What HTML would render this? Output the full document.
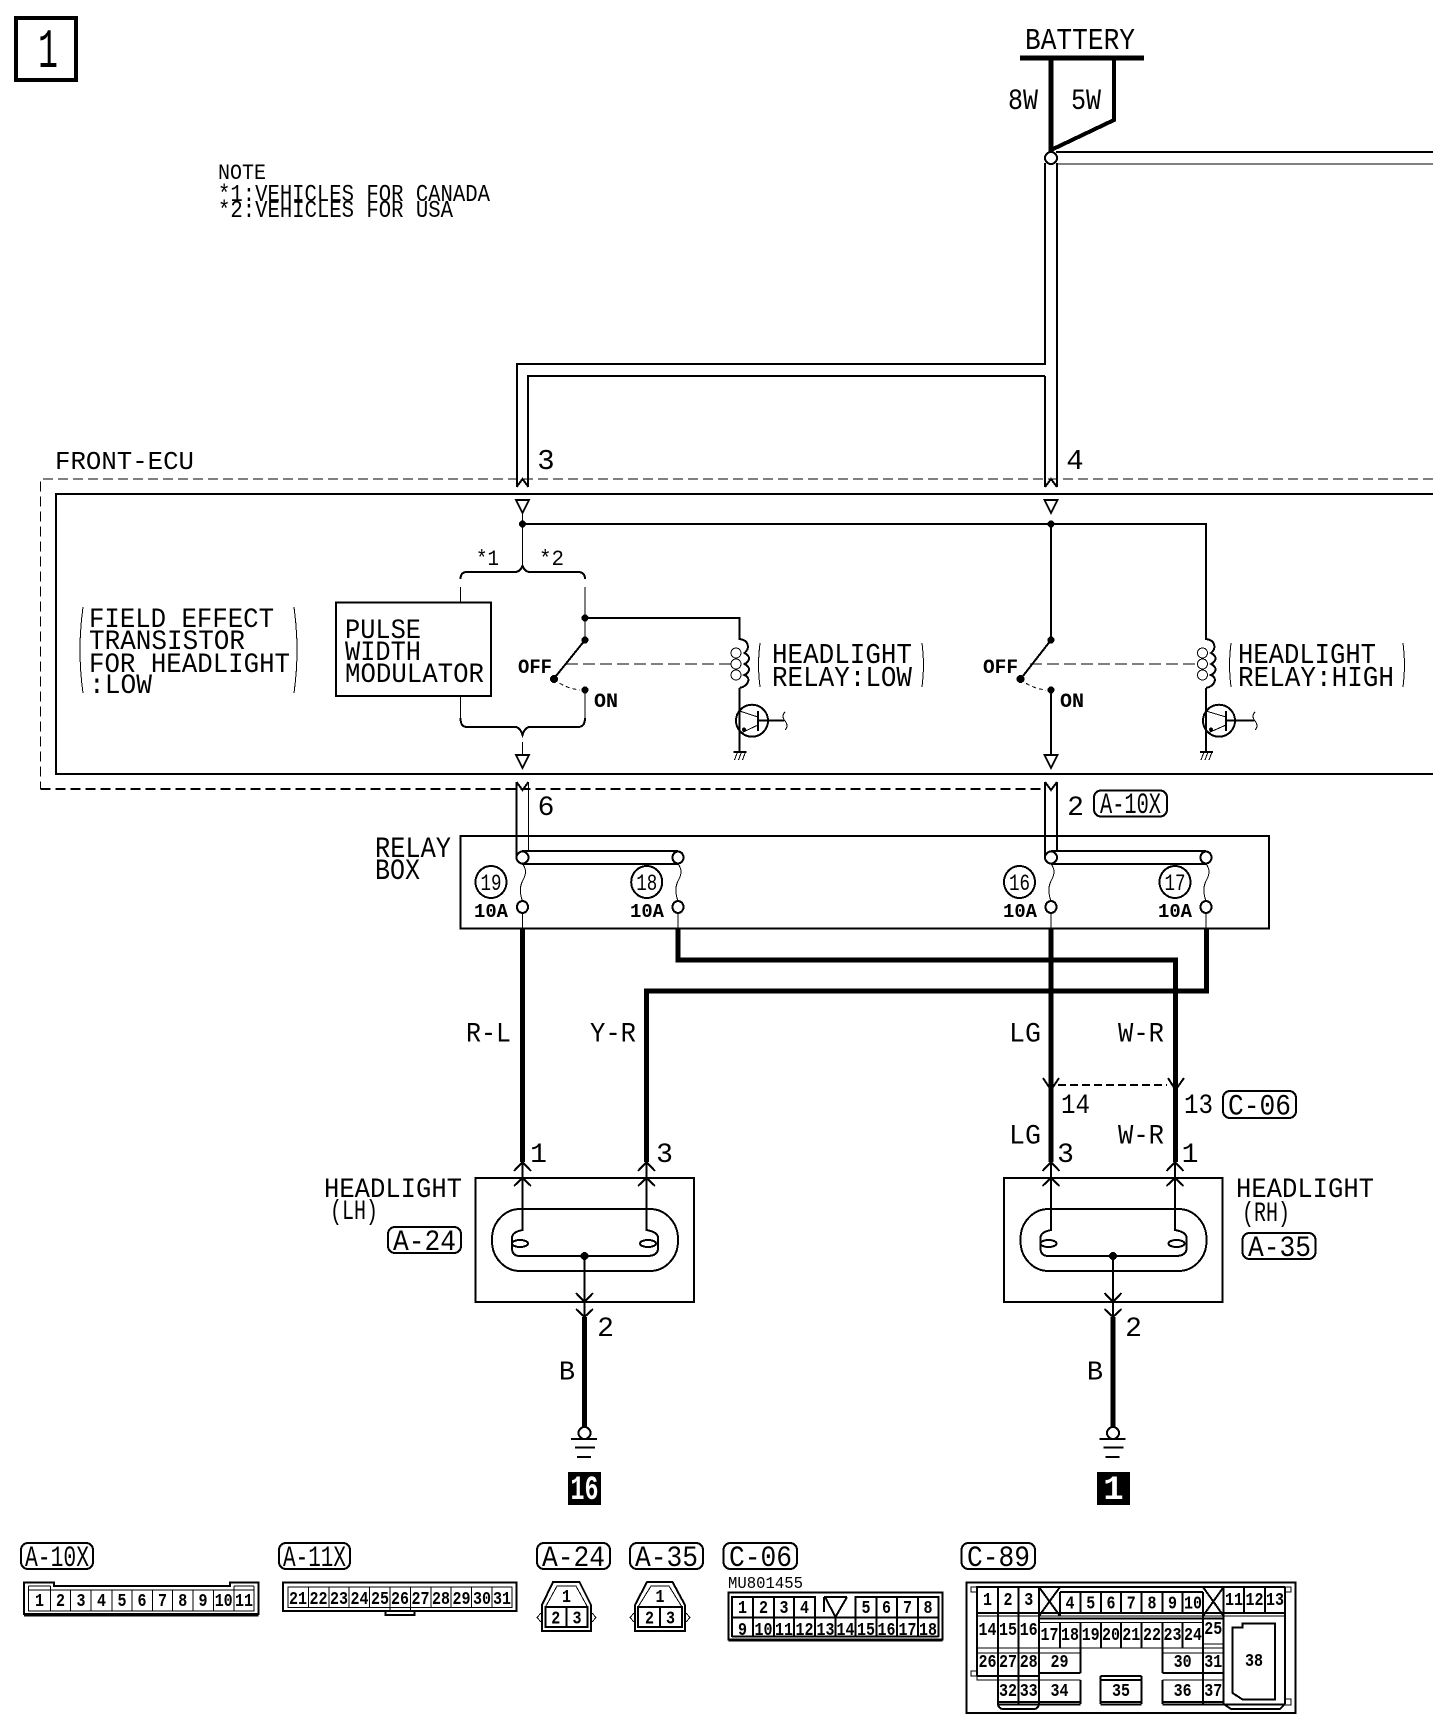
<!DOCTYPE html>
<html><head><meta charset="utf-8"><title>Headlight circuit</title>
<style>
html,body{margin:0;padding:0;background:#fff}
svg{display:block;width:1456px;height:1734px}
.l{fill:none;stroke:#000;stroke-width:1}
.m{fill:none;stroke:#000;stroke-width:2}
.t{fill:none;stroke:#000;stroke-width:4}
.k{fill:none;stroke:#000;stroke-width:5}
text{font-family:"Liberation Mono",monospace;fill:#000;stroke:none}
.c{font-size:18px;font-weight:bold;text-anchor:middle}
</style></head><body>
<svg xmlns="http://www.w3.org/2000/svg" width="1456" height="1734" viewBox="0 0 1456 1734" shape-rendering="crispEdges">
<defs>
<g id="tri"><path class="m" d="M-6.5 0H6.5L0 13Z"/></g>
<g id="fuse"><path class="l" d="M0 864C5 870 3 876 0 881C-3 887 -3 893 0 901"/><ellipse class="m" cx="0" cy="907" rx="5.5" ry="6" fill="#fff"/><path class="l" d="M0 913V929"/></g>
<g id="coil">
<path class="m" d="M0 639C9 640 11 648 5 653C11 656 11 661 5 664C11 667 11 672 5 675C12 678 9 686 0 688"/>
<ellipse class="l" cx="-3.5" cy="653" rx="5" ry="5"/><ellipse class="l" cx="-3.5" cy="664" rx="5" ry="5"/><ellipse class="l" cx="-3.5" cy="675" rx="5" ry="5"/>
<path class="m" d="M0 688V752"/>
<path class="m" d="M-6 752H7"/><path class="l" d="M-5 760L-2 752M-1 760L2 752M3 760L6 752"/>
</g>
<g id="lamp">
<rect class="m" x="475.7" y="1178" width="218.3" height="124"/>
<rect class="m" x="492" y="1209" width="186" height="62" rx="28" ry="30"/>
<path class="m" d="M522.5 1162V1230Q512 1232 512 1238V1248Q512 1256 520 1256H647Q658 1256 658 1248V1238Q658 1232 646.5 1230V1162"/>
<ellipse class="m" cx="520" cy="1243.5" rx="8" ry="3.5"/><ellipse class="m" cx="648" cy="1243.5" rx="8" ry="3.5"/>
<path class="m" d="M514 1171L522.5 1162L531 1171M514 1186L522.5 1178L531 1186M638 1171L646.5 1162L655 1171M638 1186L646.5 1178L655 1186"/>
<circle cx="584.5" cy="1256" r="4" fill="#000"/>
<path class="m" d="M584.5 1256V1317"/>
<path class="m" d="M576 1293L584.5 1302L593 1293M576 1309L584.5 1317L593 1309"/>
<path class="k" d="M584.5 1317V1428"/>
<circle class="m" cx="584.5" cy="1433" r="6"/>
<path class="m" d="M571 1439H597"/><path class="m" d="M575 1447.5H595M577 1457H591"/>
</g>
</defs>

<!-- sheet number -->
<rect x="16" y="18" width="60" height="62" fill="none" stroke="#000" stroke-width="4"/>
<text x="48" y="67" font-size="56" text-anchor="middle" textLength="20" lengthAdjust="spacingAndGlyphs">1</text>

<text x="218" y="179" font-size="22" textLength="48" lengthAdjust="spacingAndGlyphs">NOTE</text>
<text x="218" y="201" font-size="24" textLength="272" lengthAdjust="spacingAndGlyphs">*1:VEHICLES FOR CANADA</text>
<text x="218" y="217" font-size="24" textLength="235" lengthAdjust="spacingAndGlyphs">*2:VEHICLES FOR USA</text>

<!-- battery -->
<text x="1025" y="49" font-size="31" textLength="110" lengthAdjust="spacingAndGlyphs">BATTERY</text>
<path class="k" d="M1020 58H1144"/>
<path class="k" d="M1051 58V152"/>
<path class="t" d="M1114 58V120L1051 150"/>
<text x="1008" y="109" font-size="30" textLength="30" lengthAdjust="spacingAndGlyphs">8W</text>
<text x="1071" y="109" font-size="30" textLength="30" lengthAdjust="spacingAndGlyphs">5W</text>
<path class="m" d="M1056 152H1433"/><path class="l" d="M1057 164H1433"/>
<path class="m" d="M1045 163V364H517V487M1045 376H528V487M1045 376V487M1057 163V487"/>
<ellipse class="m" cx="1051" cy="158" rx="6" ry="6" fill="#fff"/>
<path class="m" d="M516.5 487L522.5 479L528.5 487M1045 487L1051 479L1057 487"/>
<text x="546" y="469" font-size="29" text-anchor="middle">3</text>
<text x="1075" y="469" font-size="29" text-anchor="middle">4</text>

<!-- ECU -->
<text x="55" y="469" font-size="26" textLength="139" lengthAdjust="spacingAndGlyphs">FRONT-ECU</text>
<path class="l" stroke-dasharray="10 5" d="M1433 479H40.5V789"/>
<path class="m" stroke-dasharray="10 5" d="M40.5 789H1044"/>
<path class="m" d="M1433 494H56V774H1433"/>

<text x="89" y="627" font-size="28" textLength="185" lengthAdjust="spacingAndGlyphs">FIELD EFFECT</text>
<text x="89" y="649" font-size="28" textLength="156" lengthAdjust="spacingAndGlyphs">TRANSISTOR</text>
<text x="89" y="672" font-size="28" textLength="201" lengthAdjust="spacingAndGlyphs">FOR HEADLIGHT</text>
<text x="89" y="693" font-size="28" textLength="63" lengthAdjust="spacingAndGlyphs">:LOW</text>
<path class="l" d="M83 607Q77 650 83 693M294 607Q300 650 294 693"/>

<rect class="m" x="336" y="602.5" width="155" height="93.5" fill="none"/>
<text x="345" y="638" font-size="28" textLength="76" lengthAdjust="spacingAndGlyphs">PULSE</text>
<text x="345" y="660" font-size="28" textLength="76" lengthAdjust="spacingAndGlyphs">WIDTH</text>
<text x="345" y="682" font-size="28" textLength="139" lengthAdjust="spacingAndGlyphs">MODULATOR</text>

<use href="#tri" x="522.5" y="500"/><use href="#tri" x="1051" y="500"/>
<use href="#tri" x="522.5" y="755"/><use href="#tri" x="1051" y="755"/>
<path class="l" d="M522.5 513V565"/>
<path class="m" d="M522.5 524H1206V640"/>
<circle cx="522.5" cy="524" r="3.5" fill="#000"/><circle cx="1051" cy="524" r="3.5" fill="#000"/>
<text x="476" y="565" font-size="22" textLength="23" lengthAdjust="spacingAndGlyphs">*1</text>
<text x="539" y="565" font-size="22" textLength="25" lengthAdjust="spacingAndGlyphs">*2</text>
<path class="m" d="M460.5 579Q460.5 572 467 572H515Q520 572 522.5 566Q525 572 530 572H578Q585 572 585 579"/>
<path class="l" d="M460.5 587V602M585 587V640M460.5 696V718M585 690V718"/>
<path class="m" d="M460.5 718Q460.5 727 467 727H515Q520 727 522.5 735Q525 727 530 727H578Q585 727 585 718"/>
<path class="l" d="M522.5 742V755"/>

<!-- low switch -->
<circle cx="585" cy="618" r="3.5" fill="#000"/><circle cx="585" cy="640" r="3.5" fill="#000"/><circle cx="585" cy="690" r="3.5" fill="#000"/>
<path class="m" d="M585 618H739.5V640"/>
<path class="m" d="M585 640L556 676"/>
<circle cx="554" cy="679" r="4" fill="#000"/>
<path class="l" stroke-dasharray="4 3" d="M554 679Q564 688 580 690"/>
<path class="l" stroke-dasharray="12 5" d="M566 664H732"/>
<text x="518" y="673" font-size="20" font-weight="bold" textLength="34" lengthAdjust="spacingAndGlyphs">OFF</text>
<text x="594" y="707" font-size="20" font-weight="bold" textLength="24" lengthAdjust="spacingAndGlyphs">ON</text>
<use href="#coil" x="739.5"/>
<circle class="m" cx="752" cy="720.7" r="16"/>
<path class="m" d="M758 711V731M758 720.5H784"/>
<path class="l" d="M739.5 711L758 717M758 725L741 733"/>
<circle cx="744" cy="729.5" r="2" fill="#000"/>
<path class="l" d="M785 712Q781 716 785 721Q789 726 785 730"/>
<path class="l" d="M760 643Q757 665 760 687M922 643Q925 665 922 687"/>
<text x="772" y="663" font-size="29" textLength="140" lengthAdjust="spacingAndGlyphs">HEADLIGHT</text>
<text x="772" y="686" font-size="29" textLength="140" lengthAdjust="spacingAndGlyphs">RELAY:LOW</text>

<!-- high switch -->
<path class="m" d="M1051 524V640M1051 690V755"/>
<circle cx="1051" cy="640" r="3.5" fill="#000"/><circle cx="1051" cy="690" r="3.5" fill="#000"/>
<path class="m" d="M1051 640L1023 676"/>
<circle cx="1020.5" cy="679" r="4" fill="#000"/>
<path class="l" stroke-dasharray="4 3" d="M1020.5 679Q1030 688 1046 690"/>
<path class="l" stroke-dasharray="12 5" d="M1030 664H1198"/>
<text x="983" y="673" font-size="20" font-weight="bold" textLength="35" lengthAdjust="spacingAndGlyphs">OFF</text>
<text x="1060" y="707" font-size="20" font-weight="bold" textLength="24" lengthAdjust="spacingAndGlyphs">ON</text>
<use href="#coil" x="1206"/>
<circle class="m" cx="1219" cy="720.7" r="16"/>
<path class="m" d="M1226 711V731M1226 720.5H1254"/>
<path class="l" d="M1206 711L1226 717M1226 725L1208 733"/>
<circle cx="1211" cy="729.5" r="2" fill="#000"/>
<path class="l" d="M1255 712Q1251 716 1255 721Q1259 726 1255 730"/>
<path class="l" d="M1231 643Q1228 665 1231 687M1403 643Q1406 665 1403 687"/>
<text x="1238" y="663" font-size="29" textLength="138" lengthAdjust="spacingAndGlyphs">HEADLIGHT</text>
<text x="1238" y="686" font-size="29" textLength="156" lengthAdjust="spacingAndGlyphs">RELAY:HIGH</text>

<!-- below ECU -->
<path class="m" d="M516.5 782V857"/><path class="l" d="M528.5 782V851"/>
<path class="m" d="M1045 782V857"/><path class="m" d="M1057 782V851"/>
<path class="m" d="M516.5 782L522.5 790L528.5 782M1045 782L1051 790L1057 782"/>
<text x="546" y="815" font-size="28" text-anchor="middle">6</text>
<text x="1075.5" y="815" font-size="28" text-anchor="middle">2</text>
<rect class="m" x="1094" y="790.5" width="73" height="26" rx="7"/>
<text x="1100" y="813" font-size="30" textLength="61" lengthAdjust="spacingAndGlyphs">A-10X</text>

<!-- relay box -->
<rect class="m" x="460.5" y="836" width="808.5" height="92.5"/>
<text x="375" y="857" font-size="30" textLength="76" lengthAdjust="spacingAndGlyphs">RELAY</text>
<text x="375" y="879" font-size="30" textLength="45" lengthAdjust="spacingAndGlyphs">BOX</text>
<path class="m" d="M522 851H678M522 864H678M1051 851H1206M1051 864H1206"/>
<ellipse class="m" cx="522.5" cy="857.5" rx="6" ry="6" fill="#fff"/><ellipse class="m" cx="678" cy="857.5" rx="5.5" ry="6" fill="#fff"/>
<ellipse class="m" cx="1051" cy="857.5" rx="6" ry="6" fill="#fff"/><ellipse class="m" cx="1206" cy="857.5" rx="5.5" ry="6" fill="#fff"/>
<use href="#fuse" x="522.5"/><use href="#fuse" x="678"/><use href="#fuse" x="1051"/><use href="#fuse" x="1206"/>
<ellipse class="m" cx="491" cy="882" rx="15.5" ry="16"/><ellipse class="m" cx="646.7" cy="882" rx="15.5" ry="16"/>
<ellipse class="m" cx="1019.5" cy="882" rx="15.5" ry="16"/><ellipse class="m" cx="1175" cy="882" rx="15.5" ry="16"/>
<text x="491" y="890" font-size="23" text-anchor="middle" textLength="21" lengthAdjust="spacingAndGlyphs">19</text>
<text x="646.7" y="890" font-size="23" text-anchor="middle" textLength="21" lengthAdjust="spacingAndGlyphs">18</text>
<text x="1019.5" y="890" font-size="23" text-anchor="middle" textLength="21" lengthAdjust="spacingAndGlyphs">16</text>
<text x="1175" y="890" font-size="23" text-anchor="middle" textLength="21" lengthAdjust="spacingAndGlyphs">17</text>
<text x="474" y="917" font-size="19" font-weight="bold" textLength="34" lengthAdjust="spacingAndGlyphs">10A</text>
<text x="630" y="917" font-size="19" font-weight="bold" textLength="34" lengthAdjust="spacingAndGlyphs">10A</text>
<text x="1003" y="917" font-size="19" font-weight="bold" textLength="34" lengthAdjust="spacingAndGlyphs">10A</text>
<text x="1158" y="917" font-size="19" font-weight="bold" textLength="34" lengthAdjust="spacingAndGlyphs">10A</text>

<!-- thick harness -->
<path class="k" d="M522.5 929V1162"/>
<path class="k" d="M678 929V960H1175.5V1162"/>
<path class="k" d="M1206.5 929V991H646.5V1162"/>
<path class="k" d="M1051 929V1162"/>
<path class="m" d="M1043 1078L1051 1090L1059 1078M1168 1078L1175.5 1090L1184 1078"/>
<path class="m" stroke-dasharray="8 4" d="M1058 1085H1167"/>
<text x="466" y="1041.5" font-size="28" textLength="45" lengthAdjust="spacingAndGlyphs">R-L</text>
<text x="590" y="1041.5" font-size="28" textLength="46" lengthAdjust="spacingAndGlyphs">Y-R</text>
<text x="1009" y="1041.5" font-size="28" textLength="32" lengthAdjust="spacingAndGlyphs">LG</text>
<text x="1118" y="1041.5" font-size="28" textLength="46" lengthAdjust="spacingAndGlyphs">W-R</text>
<text x="1061" y="1113" font-size="28" textLength="29" lengthAdjust="spacingAndGlyphs">14</text>
<text x="1184" y="1113" font-size="28" textLength="29" lengthAdjust="spacingAndGlyphs">13</text>
<rect class="m" x="1223" y="1091" width="73" height="27" rx="7"/>
<text x="1228" y="1114.5" font-size="30" textLength="63" lengthAdjust="spacingAndGlyphs">C-06</text>
<text x="1009" y="1143.5" font-size="28" textLength="32" lengthAdjust="spacingAndGlyphs">LG</text>
<text x="1118" y="1143.5" font-size="28" textLength="46" lengthAdjust="spacingAndGlyphs">W-R</text>
<text x="1065.5" y="1162" font-size="28" text-anchor="middle">3</text>
<text x="1190" y="1162" font-size="28" text-anchor="middle">1</text>
<text x="538.5" y="1162" font-size="28" text-anchor="middle">1</text>
<text x="664.5" y="1162" font-size="28" text-anchor="middle">3</text>

<!-- headlights -->
<use href="#lamp"/><use href="#lamp" x="528.5"/>
<text x="324" y="1197" font-size="28" textLength="138" lengthAdjust="spacingAndGlyphs">HEADLIGHT</text>
<text x="330" y="1219" font-size="28" textLength="48" lengthAdjust="spacingAndGlyphs">(LH)</text>
<rect class="m" x="388" y="1227" width="73" height="26" rx="7"/>
<text x="393" y="1250" font-size="30" textLength="63" lengthAdjust="spacingAndGlyphs">A-24</text>
<text x="1236" y="1197" font-size="28" textLength="138" lengthAdjust="spacingAndGlyphs">HEADLIGHT</text>
<text x="1242" y="1221" font-size="28" textLength="48" lengthAdjust="spacingAndGlyphs">(RH)</text>
<rect class="m" x="1242.5" y="1233" width="73" height="26" rx="7"/>
<text x="1248" y="1256" font-size="30" textLength="63" lengthAdjust="spacingAndGlyphs">A-35</text>
<text x="605.5" y="1336" font-size="28" text-anchor="middle">2</text>
<text x="1133.5" y="1336" font-size="28" text-anchor="middle">2</text>
<text x="567" y="1379.5" font-size="27" text-anchor="middle">B</text>
<text x="1095" y="1379.5" font-size="27" text-anchor="middle">B</text>
<rect x="568" y="1472" width="33" height="33" fill="#000"/>
<rect x="1097" y="1472" width="33" height="33" fill="#000"/>
<text x="584.5" y="1499" font-size="34" font-weight="bold" text-anchor="middle" textLength="28" lengthAdjust="spacingAndGlyphs" style="fill:#fff">16</text>
<text x="1113.5" y="1499" font-size="34" font-weight="bold" text-anchor="middle" style="fill:#fff">1</text>

<!-- connector tags -->
<g>
<rect class="m" x="21" y="1543" width="72" height="26" rx="7"/><text x="25" y="1566" font-size="30" textLength="64" lengthAdjust="spacingAndGlyphs">A-10X</text>
<rect class="m" x="279" y="1543" width="71" height="26" rx="7"/><text x="283" y="1566" font-size="30" textLength="63" lengthAdjust="spacingAndGlyphs">A-11X</text>
<rect class="m" x="537" y="1543" width="73" height="26" rx="7"/><text x="542" y="1566" font-size="30" textLength="63" lengthAdjust="spacingAndGlyphs">A-24</text>
<rect class="m" x="630" y="1543" width="73" height="26" rx="7"/><text x="635" y="1566" font-size="30" textLength="63" lengthAdjust="spacingAndGlyphs">A-35</text>
<rect class="m" x="723.5" y="1543" width="73.5" height="26" rx="7"/><text x="729" y="1566" font-size="30" textLength="63" lengthAdjust="spacingAndGlyphs">C-06</text>
<rect class="m" x="961.5" y="1543" width="73.5" height="26" rx="7"/><text x="967" y="1566" font-size="30" textLength="63" lengthAdjust="spacingAndGlyphs">C-89</text>
</g>

<!-- A-10X connector -->
<path class="m" d="M24 1582.5H54V1586H230V1582.5H258.5V1614H24Z"/>
<path class="m" d="M24 1615.5H258.5"/>
<path class="l" d="M28.5 1586H50.5M234 1586H254"/>
<path class="l" d="M28.5 1590H254V1611H28.5ZM28.5 1586V1590M254 1586V1590M50.5 1586V1611M70.7 1590V1611M91 1590V1611M112 1590V1611M132 1590V1611M152.4 1590V1611M172.6 1590V1611M192.8 1590V1611M213.5 1590V1611M234 1586V1611"/>
<g class="c">
<text class="c" x="39.5" y="1606" textLength="9" lengthAdjust="spacingAndGlyphs">1</text>
<text class="c" x="60.5" y="1606" textLength="9" lengthAdjust="spacingAndGlyphs">2</text>
<text class="c" x="81" y="1606" textLength="9" lengthAdjust="spacingAndGlyphs">3</text>
<text class="c" x="101.5" y="1606" textLength="9" lengthAdjust="spacingAndGlyphs">4</text>
<text class="c" x="122" y="1606" textLength="9" lengthAdjust="spacingAndGlyphs">5</text>
<text class="c" x="142" y="1606" textLength="9" lengthAdjust="spacingAndGlyphs">6</text>
<text class="c" x="162.5" y="1606" textLength="9" lengthAdjust="spacingAndGlyphs">7</text>
<text class="c" x="182.7" y="1606" textLength="9" lengthAdjust="spacingAndGlyphs">8</text>
<text class="c" x="203" y="1606" textLength="9" lengthAdjust="spacingAndGlyphs">9</text>
<text class="c" x="223.7" y="1606" textLength="18" lengthAdjust="spacingAndGlyphs">10</text>
<text class="c" x="244" y="1606" textLength="18" lengthAdjust="spacingAndGlyphs">11</text>
</g>

<!-- A-11X connector -->
<rect class="m" x="283" y="1582.5" width="233.5" height="28.5"/>
<path class="m" d="M385.7 1611V1615H414.6V1611"/>
<path class="l" d="M288 1587H512V1607.5H288ZM308.4 1587V1607.5M328.8 1587V1607.5M349.2 1587V1607.5M369.6 1587V1607.5M390 1587V1611M410.4 1587V1611M430.8 1587V1607.5M451.2 1587V1607.5M471.6 1587V1607.5M492 1587V1607.5"/>
<text class="c" x="298" y="1604" textLength="18" lengthAdjust="spacingAndGlyphs">21</text>
<text class="c" x="318.5" y="1604" textLength="18" lengthAdjust="spacingAndGlyphs">22</text>
<text class="c" x="339" y="1604" textLength="18" lengthAdjust="spacingAndGlyphs">23</text>
<text class="c" x="359.5" y="1604" textLength="18" lengthAdjust="spacingAndGlyphs">24</text>
<text class="c" x="380" y="1604" textLength="18" lengthAdjust="spacingAndGlyphs">25</text>
<text class="c" x="400" y="1604" textLength="18" lengthAdjust="spacingAndGlyphs">26</text>
<text class="c" x="420.5" y="1604" textLength="18" lengthAdjust="spacingAndGlyphs">27</text>
<text class="c" x="441" y="1604" textLength="18" lengthAdjust="spacingAndGlyphs">28</text>
<text class="c" x="461.5" y="1604" textLength="18" lengthAdjust="spacingAndGlyphs">29</text>
<text class="c" x="482" y="1604" textLength="18" lengthAdjust="spacingAndGlyphs">30</text>
<text class="c" x="502" y="1604" textLength="18" lengthAdjust="spacingAndGlyphs">31</text>

<!-- A-24 -->
<path class="m" d="M553 1582H579.5L591 1605V1631H542V1605Z"/>
<path class="l" d="M557 1586H576L587.5 1607H545.5Z"/>
<path class="m" d="M545.5 1607H587.5V1627H545.5ZM566.5 1607V1627"/>
<path class="l" d="M541 1613L537 1617.5L541 1622M592 1613L596 1617.5L592 1622"/>
<text class="c" x="566.5" y="1602" textLength="9" lengthAdjust="spacingAndGlyphs">1</text>
<text class="c" x="555.7" y="1623.5" textLength="9" lengthAdjust="spacingAndGlyphs">2</text>
<text class="c" x="577" y="1623.5" textLength="9" lengthAdjust="spacingAndGlyphs">3</text>

<!-- A-35 -->
<path class="m" d="M647 1582H672.5L685 1605V1631H635V1605Z"/>
<path class="l" d="M651 1586H669L682 1607H638Z"/>
<path class="m" d="M638 1607H682V1627H638ZM660 1607V1627"/>
<path class="l" d="M634 1613L630 1617.5L634 1622M686 1613L690 1617.5L686 1622"/>
<text class="c" x="660" y="1602" textLength="9" lengthAdjust="spacingAndGlyphs">1</text>
<text class="c" x="649.5" y="1623.5" textLength="9" lengthAdjust="spacingAndGlyphs">2</text>
<text class="c" x="670.5" y="1623.5" textLength="9" lengthAdjust="spacingAndGlyphs">3</text>

<!-- C-06 -->
<text x="728" y="1588" font-size="17" textLength="75" lengthAdjust="spacingAndGlyphs">MU801455</text>
<rect class="m" x="728.5" y="1592.5" width="214" height="47"/>
<path class="m" d="M728.5 1640.5H942.5"/>
<path class="m" d="M732 1617.5H938.5M732 1636.5H938.5M732 1617.5V1597H815.2V1617.5M855.5 1617.5V1597H938.5V1617.5M824 1597H847"/>
<path class="m" d="M732 1617V1637M752.9 1597V1637M773.9 1597V1637M794.2 1597V1637M815.2 1617V1637M835.5 1617V1637M855.5 1617V1637M876.5 1597V1637M897 1597V1637M917.8 1597V1637M938.5 1617V1637"/>
<path class="m" d="M824 1597V1612M825 1597L835.5 1617L847 1597"/>
<text class="c" x="742.5" y="1613" textLength="9" lengthAdjust="spacingAndGlyphs">1</text>
<text class="c" x="763.5" y="1613" textLength="9" lengthAdjust="spacingAndGlyphs">2</text>
<text class="c" x="784" y="1613" textLength="9" lengthAdjust="spacingAndGlyphs">3</text>
<text class="c" x="804.5" y="1613" textLength="9" lengthAdjust="spacingAndGlyphs">4</text>
<text class="c" x="866" y="1613" textLength="9" lengthAdjust="spacingAndGlyphs">5</text>
<text class="c" x="886.5" y="1613" textLength="9" lengthAdjust="spacingAndGlyphs">6</text>
<text class="c" x="907.5" y="1613" textLength="9" lengthAdjust="spacingAndGlyphs">7</text>
<text class="c" x="928" y="1613" textLength="9" lengthAdjust="spacingAndGlyphs">8</text>
<text class="c" x="742.5" y="1635" textLength="9" lengthAdjust="spacingAndGlyphs">9</text>
<text class="c" x="763.5" y="1635" textLength="18" lengthAdjust="spacingAndGlyphs">10</text>
<text class="c" x="784" y="1635" textLength="18" lengthAdjust="spacingAndGlyphs">11</text>
<text class="c" x="804.5" y="1635" textLength="18" lengthAdjust="spacingAndGlyphs">12</text>
<text class="c" x="825.5" y="1635" textLength="18" lengthAdjust="spacingAndGlyphs">13</text>
<text class="c" x="845.5" y="1635" textLength="18" lengthAdjust="spacingAndGlyphs">14</text>
<text class="c" x="866" y="1635" textLength="18" lengthAdjust="spacingAndGlyphs">15</text>
<text class="c" x="886.5" y="1635" textLength="18" lengthAdjust="spacingAndGlyphs">16</text>
<text class="c" x="907.5" y="1635" textLength="18" lengthAdjust="spacingAndGlyphs">17</text>
<text class="c" x="928" y="1635" textLength="18" lengthAdjust="spacingAndGlyphs">18</text>

<!-- C-89 -->
<rect class="m" x="966.5" y="1582.5" width="329" height="130.5"/>
<path class="l" d="M977 1587H971V1592H977M1285 1587H1291V1592H1285M977 1671H971V1676H977M1285 1699H1291V1705H1285"/>
<path class="m" d="M977 1613V1587H1285M977 1587V1613M997.8 1587V1613M1018.4 1587V1613M1039 1587V1613M1060 1592V1616M1080.4 1592V1613M1101 1592V1613M1121 1592V1613M1141.7 1592V1613M1162.4 1592V1613M1182.6 1592V1613M1203 1592V1616M1223.6 1587V1616M1244.2 1587V1613M1265 1587V1613M1285 1587V1704"/>
<path class="m" d="M1060 1592H1203M977 1613H1285M1039 1618.5H1223.6"/>
<path class="l" d="M977 1616H1285M1039 1622.5H1203"/>
<path class="m" d="M1039 1587L1060 1616M1060 1587L1039 1616M1203 1587L1223.6 1616M1223.6 1587L1203 1616"/>
<!-- row 2 -->
<path class="m" d="M977 1613V1676M997.8 1613V1704M1018.4 1613V1704M1039 1613V1704"/>
<path class="m" d="M1060 1623V1648M1080.4 1623V1648M1101 1623V1648M1121 1623V1648M1141.7 1623V1648M1162.4 1623V1648M1182.6 1623V1648"/>
<path class="m" d="M1203 1613V1704M1223.6 1613V1704"/>
<path class="l" d="M977 1648H1039M977 1653H1039M1039 1648H1203M1203 1644H1223.6M1203 1648H1223.6M1039 1653H1080.4M1162.4 1653H1223.6"/>
<!-- row 3 -->
<path class="m" d="M1080.4 1648V1673M1162.4 1648V1673M1039 1673H1080.4M1162.4 1673H1223.6"/>
<path class="m" d="M977 1676H1039"/>
<path class="l" d="M977 1676V1680H997.8M997.8 1680H1039M1039 1680H1080.4M1162.4 1680H1223.6"/>
<!-- row 4 -->
<path class="m" d="M1080.4 1680V1704M1162.4 1680V1704"/>
<path class="m" d="M997.8 1702H1080.4M1162.4 1702H1223.6"/>
<path class="m" d="M997.8 1704.5H1080.4M1162.4 1704.5H1285"/>
<path class="m" d="M997.8 1704Q999 1709 1003 1709H1034Q1038 1709 1039 1704M1223.6 1704L1231 1709H1280L1285 1704"/>
<path class="m" d="M1100.5 1676V1704M1141.7 1676V1704M1100.5 1676H1141.7M1100.5 1680H1141.7M1100.5 1702H1141.7M1100.5 1704.5H1141.7"/>
<path class="m" d="M1242.6 1623.5H1275V1699.5H1242.6L1232.5 1693V1627.5H1242.6Z"/>
<text class="c" x="987.5" y="1605" textLength="9" lengthAdjust="spacingAndGlyphs">1</text>
<text class="c" x="1008" y="1605" textLength="9" lengthAdjust="spacingAndGlyphs">2</text>
<text class="c" x="1028.7" y="1605" textLength="9" lengthAdjust="spacingAndGlyphs">3</text>
<text class="c" x="1070" y="1608.5" textLength="9" lengthAdjust="spacingAndGlyphs">4</text>
<text class="c" x="1090.7" y="1608.5" textLength="9" lengthAdjust="spacingAndGlyphs">5</text>
<text class="c" x="1111" y="1608.5" textLength="9" lengthAdjust="spacingAndGlyphs">6</text>
<text class="c" x="1131.3" y="1608.5" textLength="9" lengthAdjust="spacingAndGlyphs">7</text>
<text class="c" x="1152" y="1608.5" textLength="9" lengthAdjust="spacingAndGlyphs">8</text>
<text class="c" x="1172.5" y="1608.5" textLength="9" lengthAdjust="spacingAndGlyphs">9</text>
<text class="c" x="1193" y="1608.5" textLength="18" lengthAdjust="spacingAndGlyphs">10</text>
<text class="c" x="1234" y="1605" textLength="18" lengthAdjust="spacingAndGlyphs">11</text>
<text class="c" x="1254.5" y="1605" textLength="18" lengthAdjust="spacingAndGlyphs">12</text>
<text class="c" x="1275" y="1605" textLength="18" lengthAdjust="spacingAndGlyphs">13</text>
<text class="c" x="987.5" y="1635" textLength="18" lengthAdjust="spacingAndGlyphs">14</text>
<text class="c" x="1008" y="1635" textLength="18" lengthAdjust="spacingAndGlyphs">15</text>
<text class="c" x="1028.7" y="1635" textLength="18" lengthAdjust="spacingAndGlyphs">16</text>
<text class="c" x="1049.5" y="1640" textLength="18" lengthAdjust="spacingAndGlyphs">17</text>
<text class="c" x="1070" y="1640" textLength="18" lengthAdjust="spacingAndGlyphs">18</text>
<text class="c" x="1090.7" y="1640" textLength="18" lengthAdjust="spacingAndGlyphs">19</text>
<text class="c" x="1111" y="1640" textLength="18" lengthAdjust="spacingAndGlyphs">20</text>
<text class="c" x="1131.3" y="1640" textLength="18" lengthAdjust="spacingAndGlyphs">21</text>
<text class="c" x="1152" y="1640" textLength="18" lengthAdjust="spacingAndGlyphs">22</text>
<text class="c" x="1172.5" y="1640" textLength="18" lengthAdjust="spacingAndGlyphs">23</text>
<text class="c" x="1193" y="1640" textLength="18" lengthAdjust="spacingAndGlyphs">24</text>
<text class="c" x="1213.3" y="1634" textLength="18" lengthAdjust="spacingAndGlyphs">25</text>
<text class="c" x="987.5" y="1667" textLength="18" lengthAdjust="spacingAndGlyphs">26</text>
<text class="c" x="1008" y="1667" textLength="18" lengthAdjust="spacingAndGlyphs">27</text>
<text class="c" x="1028.7" y="1667" textLength="18" lengthAdjust="spacingAndGlyphs">28</text>
<text class="c" x="1059.5" y="1667" textLength="18" lengthAdjust="spacingAndGlyphs">29</text>
<text class="c" x="1182.6" y="1667" textLength="18" lengthAdjust="spacingAndGlyphs">30</text>
<text class="c" x="1213.3" y="1667" textLength="18" lengthAdjust="spacingAndGlyphs">31</text>
<text class="c" x="1008" y="1696" textLength="18" lengthAdjust="spacingAndGlyphs">32</text>
<text class="c" x="1028.7" y="1696" textLength="18" lengthAdjust="spacingAndGlyphs">33</text>
<text class="c" x="1059.5" y="1696" textLength="18" lengthAdjust="spacingAndGlyphs">34</text>
<text class="c" x="1121" y="1696" textLength="18" lengthAdjust="spacingAndGlyphs">35</text>
<text class="c" x="1182.6" y="1696" textLength="18" lengthAdjust="spacingAndGlyphs">36</text>
<text class="c" x="1213.3" y="1696" textLength="18" lengthAdjust="spacingAndGlyphs">37</text>
<text class="c" x="1254" y="1666" textLength="18" lengthAdjust="spacingAndGlyphs">38</text>
</svg>
</body></html>
